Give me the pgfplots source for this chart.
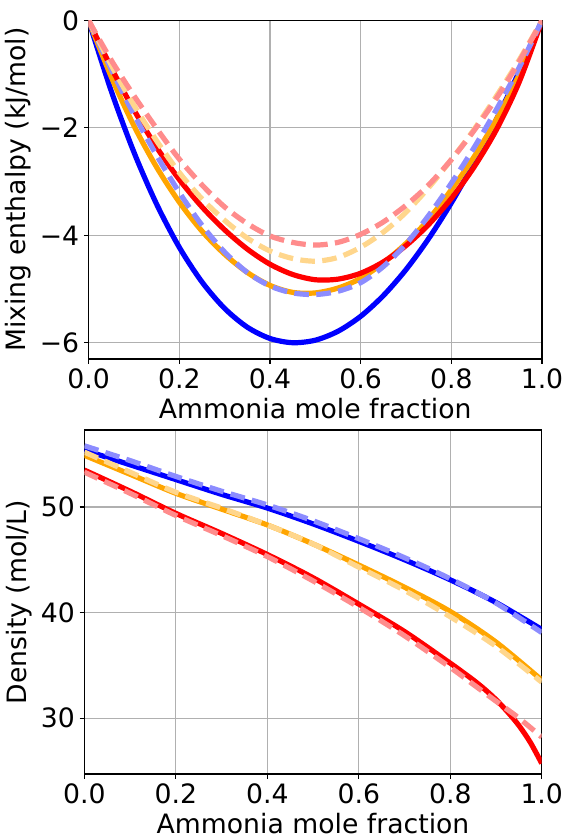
\documentclass[border=0pt]{standalone}
\usepackage{fontspec}
\setmainfont{DejaVu Sans}
\usepackage{pgfplots}
\pgfplotsset{compat=1.18}
\definecolor{lblue}{RGB}{140,140,255}
\definecolor{lorange}{RGB}{255,214,140}
\definecolor{lred}{RGB}{255,140,140}
\definecolor{morange}{RGB}{255,165,0}
\definecolor{gridc}{RGB}{176,176,176}
\pgfplotsset{
  myax/.style={
    scale only axis, xmin=0, xmax=1,
    axis line style={line width=0.83pt},
    grid=major, grid style={gridc, line width=0.83pt},
    tick style={black, line width=0.83pt},
    major tick length=3.6pt, tick align=outside, tick pos=left,
    xtick={0,0.2,0.4,0.6,0.8,1},
    xticklabels={0.0,0.2,0.4,0.6,0.8,1.0},
    tick label style={font=\fontsize{20}{24}\selectfont},
    label style={font=\fontsize{20}{24}\selectfont},
    xlabel={Ammonia mole fraction},
  },
  sol/.style={line width=3.9pt, smooth},
  das/.style={line width=3.9pt, smooth, dash pattern=on 11pt off 5.5pt},
}
\begin{document}
\begin{tikzpicture}
\useasboundingbox (0,0) rectangle (423pt,629.25pt);
\begin{axis}[myax, at={(66.45pt,360pt)}, anchor=south west,
  width=340.05pt, height=253.9pt,
  ymin=-6.3, ymax=0,
  ytick={0,-2,-4,-6}, yticklabels={0,−2,−4,−6},
  ylabel={Mixing enthalpy (kJ/mol)},
  xlabel style={yshift=0pt}]
\addplot[sol, blue] coordinates {(0,0)(0.05,-1.314)(0.1,-2.452)(0.15,-3.418)(0.2,-4.221)(0.25,-4.866)(0.3,-5.359)(0.35,-5.708)(0.4,-5.918)(0.45,-5.997)(0.5,-5.95)(0.55,-5.784)(0.6,-5.506)(0.65,-5.121)(0.7,-4.637)(0.75,-4.059)(0.8,-3.395)(0.85,-2.651)(0.9,-1.832)(0.95,-0.947)(1,0)};
\addplot[sol, morange] coordinates {(0,0)(0.05,-1.05)(0.1,-1.96)(0.15,-2.73)(0.2,-3.38)(0.25,-3.92)(0.3,-4.35)(0.35,-4.69)(0.4,-4.93)(0.45,-5.06)(0.5,-5.07)(0.55,-4.98)(0.6,-4.80)(0.65,-4.51)(0.7,-4.15)(0.75,-3.70)(0.8,-3.15)(0.85,-2.54)(0.9,-1.83)(0.95,-1.00)(1,0)};
\addplot[sol, red] coordinates {(0,0)(0.05,-0.879)(0.1,-1.665)(0.15,-2.359)(0.2,-2.96)(0.25,-3.469)(0.3,-3.896)(0.35,-4.254)(0.4,-4.536)(0.45,-4.727)(0.5,-4.825)(0.55,-4.814)(0.6,-4.704)(0.65,-4.493)(0.7,-4.19)(0.75,-3.797)(0.8,-3.312)(0.85,-2.729)(0.9,-2.025)(0.95,-1.14)(1,0)};
\addplot[das, lblue] coordinates {(0,0)(0.05,-0.91)(0.1,-1.75)(0.15,-2.51)(0.2,-3.20)(0.25,-3.81)(0.3,-4.31)(0.35,-4.69)(0.4,-4.94)(0.45,-5.07)(0.5,-5.10)(0.55,-5.04)(0.6,-4.88)(0.65,-4.58)(0.7,-4.16)(0.75,-3.63)(0.8,-3.03)(0.85,-2.37)(0.9,-1.65)(0.95,-0.87)(1,0)};
\addplot[das, lorange] coordinates {(0,0)(0.05,-0.83)(0.1,-1.58)(0.15,-2.24)(0.2,-2.83)(0.25,-3.32)(0.3,-3.72)(0.35,-4.05)(0.4,-4.29)(0.45,-4.43)(0.5,-4.48)(0.55,-4.41)(0.6,-4.22)(0.65,-3.94)(0.7,-3.57)(0.75,-3.11)(0.8,-2.59)(0.85,-2.03)(0.9,-1.40)(0.95,-0.73)(1,0)};
\addplot[das, lred] coordinates {(0,0)(0.05,-0.74)(0.1,-1.40)(0.15,-2.01)(0.2,-2.58)(0.25,-3.06)(0.3,-3.47)(0.35,-3.78)(0.4,-4.01)(0.45,-4.13)(0.5,-4.18)(0.55,-4.13)(0.6,-3.98)(0.65,-3.75)(0.7,-3.44)(0.75,-3.06)(0.8,-2.59)(0.85,-2.05)(0.9,-1.44)(0.95,-0.76)(1,0)};
\end{axis}
\begin{axis}[myax, at={(63.3pt,48.75pt)}, anchor=south west,
  width=343pt, height=258pt,
  ymin=24.7, ymax=57.3,
  ytick={30,40,50}, yticklabels={30,40,50},
  ylabel={Density (mol/L)},
  xlabel style={yshift=0pt}]
\addplot[sol, blue] coordinates {(0,55.4)(0.1,54.0)(0.2,52.6)(0.3,51.2)(0.4,49.9)(0.5,48.4)(0.6,46.75)(0.7,45.0)(0.8,43.1)(0.9,40.95)(1,38.4)};
\addplot[sol, morange] coordinates {(0,54.9)(0.1,53.1)(0.2,51.3)(0.3,49.8)(0.4,48.3)(0.5,46.5)(0.6,44.5)(0.7,42.4)(0.8,40.1)(0.9,37.2)(1,33.6)};
\addplot[sol, red] coordinates {(0,53.5)(0.1,51.5)(0.2,49.4)(0.3,47.5)(0.4,45.5)(0.5,43.3)(0.6,40.8)(0.7,38.2)(0.8,35.2)(0.825,34.42)(0.85,33.62)(0.875,32.74)(0.9,31.75)(0.925,30.6)(0.95,29.3)(0.975,27.7)(1,25.7)};
\addplot[das, lblue] coordinates {(0,55.8)(0.1,54.4)(0.2,52.9)(0.3,51.5)(0.4,50.2)(0.5,48.7)(0.6,47.0)(0.7,45.2)(0.8,43.2)(0.9,40.9)(1,38.1)};
\addplot[das, lorange] coordinates {(0,55.2)(0.1,53.3)(0.2,51.4)(0.3,49.9)(0.4,48.3)(0.5,46.5)(0.6,44.3)(0.7,42.1)(0.8,39.6)(0.9,36.8)(1,33.4)};
\addplot[das, lred] coordinates {(0,53.3)(0.1,51.3)(0.2,49.2)(0.3,47.3)(0.4,45.3)(0.5,43.0)(0.6,40.5)(0.7,37.8)(0.8,34.8)(0.85,33.2)(0.9,31.6)(0.95,30.0)(1,28.2)};
\end{axis}
\end{tikzpicture}
\end{document}
